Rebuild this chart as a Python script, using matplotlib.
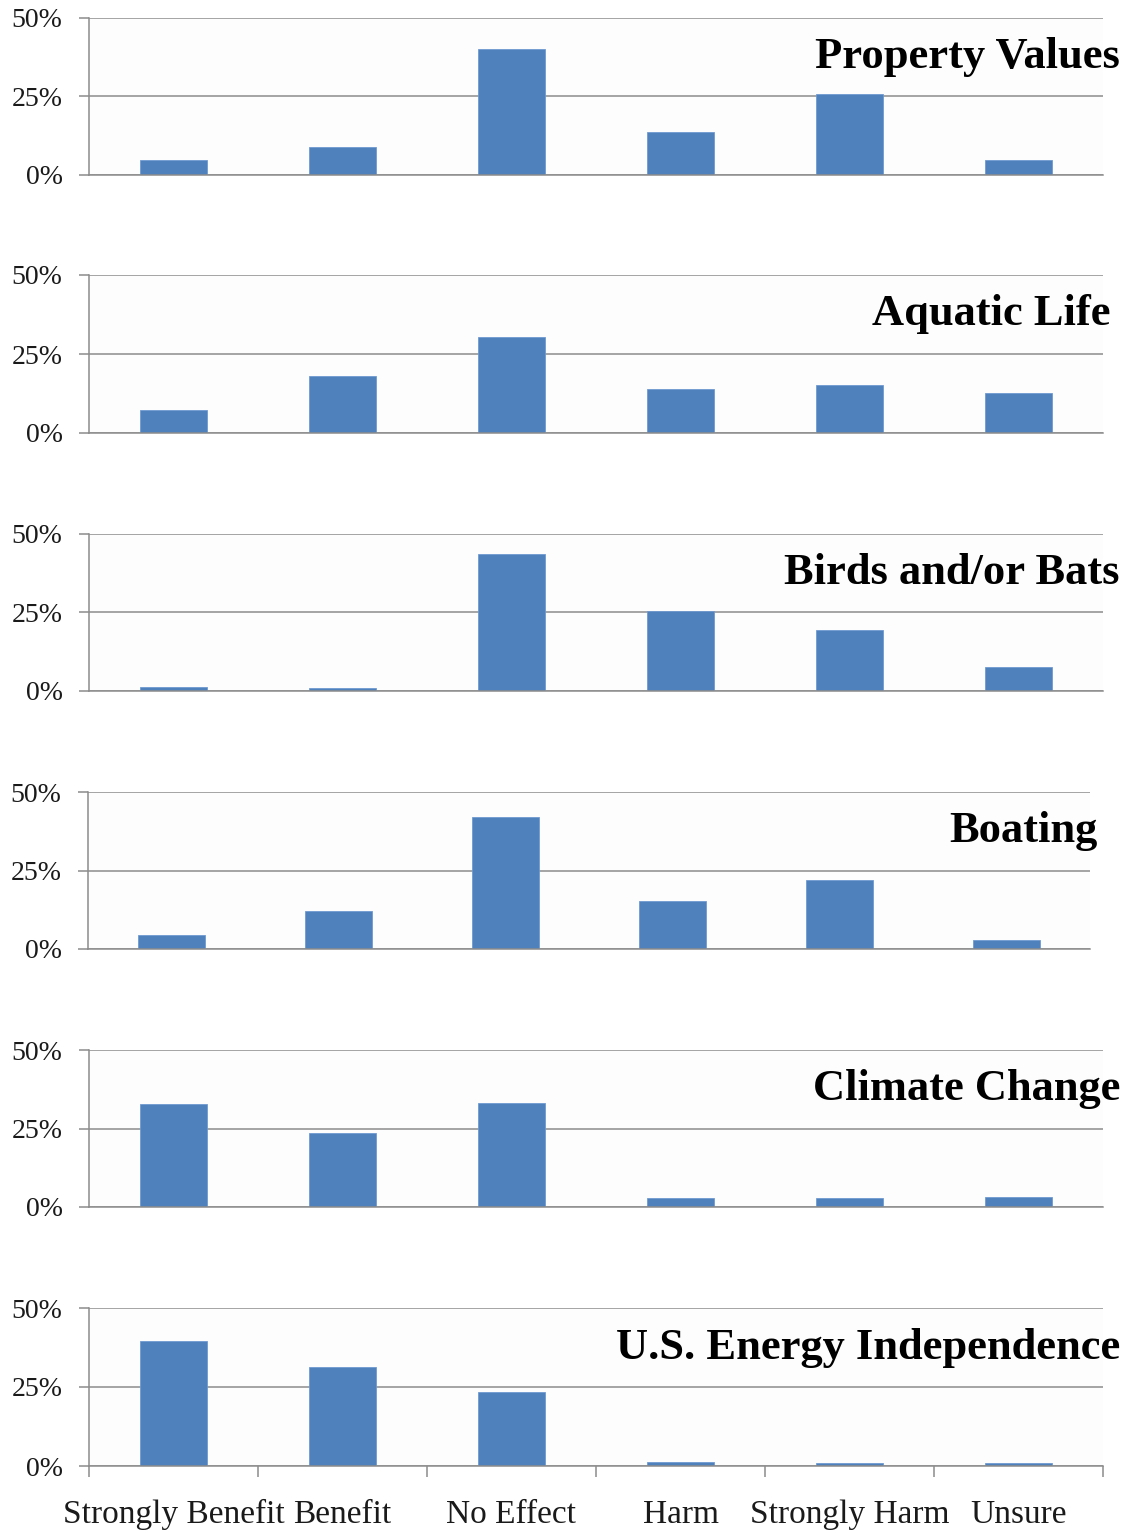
import numpy as np
import matplotlib
matplotlib.use("Agg")
from matplotlib import pyplot as plt

# response categories
categories = ["Strongly Benefit", "Benefit", "No Effect", "Harm", "Strongly Harm", "Unsure"]

# share of responses (%) per topic
titles = ["Property Values", "Aquatic Life", "Birds and/or Bats",
          "Boating", "Climate Change", "U.S. Energy Independence"]
property_values = [4.8, 8.9, 40.1, 13.7, 25.8, 4.8]
aquatic_life = [7.3, 18.0, 30.4, 13.9, 15.2, 12.7]
birds_bats = [1.3, 1.0, 43.6, 25.5, 19.4, 7.6]
boating = [4.5, 12.1, 42.0, 15.3, 22.0, 2.9]
climate_change = [32.8, 23.6, 33.1, 2.9, 2.9, 3.2]
energy_independence = [39.6, 31.3, 23.4, 1.3, 1.0, 1.0]
series = [property_values, aquatic_life, birds_bats, boating,
          climate_change, energy_independence]

yticks = [0, 25, 50]
ytick_labels = ["0%", "25%", "50%"]

W, H = 1131, 1533
fig = plt.figure(figsize=(W / 100, H / 100), dpi=100)
fig.patch.set_facecolor("white")

# panel layout in pixels (50% line, 0% line, left, right)
tops = [18, 275, 534, 792, 1050, 1308]
bots = [175, 433, 691, 949, 1207, 1466]
lefts = [89, 89, 89, 88, 89, 89]
rights = [1103, 1103, 1103, 1090, 1103, 1103]
title_right = [1120, 1110, 1120, 1097, 1120, 1120]

serif = ["Liberation Serif", "DejaVu Serif"]
grid_c = "#8c8c8c"
bar_c = "#4f81bd"
x = np.arange(len(categories))

for i in range(6):
    ax = fig.add_axes([lefts[i] / W, 1 - bots[i] / H,
                       (rights[i] - lefts[i]) / W, (bots[i] - tops[i]) / H])
    ax.set_facecolor("#fdfdfd")
    ax.bar(x, series[i], width=0.4, color=bar_c, edgecolor="#6f9ad0",
           linewidth=0.6, zorder=3)
    ax.set_xlim(-0.5, len(categories) - 0.5)
    ax.set_ylim(0, 50)
    ax.set_yticks(yticks)
    ax.set_yticklabels(ytick_labels, family=serif, fontsize=20, color="#1a1a1a")
    ax.tick_params(axis="y", length=7, width=1.1, color=grid_c, pad=12)
    ax.yaxis.grid(True, color=grid_c, linewidth=1.1, zorder=0)
    for s in ["top", "right"]:
        ax.spines[s].set_visible(False)
    for s in ["left", "bottom"]:
        ax.spines[s].set_color(grid_c)
        ax.spines[s].set_linewidth(1.1)
    ax.spines["bottom"].set_zorder(4)

    if i == 5:
        ax.set_xticks(x)
        ax.set_xticklabels(categories, family=serif, fontsize=24, color="#1a1a1a")
        ax.set_xticks(np.arange(-0.5, len(categories)), minor=True)
        ax.tick_params(axis="x", which="major", length=0, pad=24)
        ax.tick_params(axis="x", which="minor", length=8, width=1.1, color=grid_c)
    else:
        ax.set_xticks([])

    fig.text(title_right[i] / W, 1 - (bots[i] - 0.75 * (bots[i] - tops[i])) / H,
             titles[i], ha="right", va="center", family=serif,
             fontsize=32, fontweight="bold", color="black")

fig.savefig("out.png", dpi=100, facecolor="white")
